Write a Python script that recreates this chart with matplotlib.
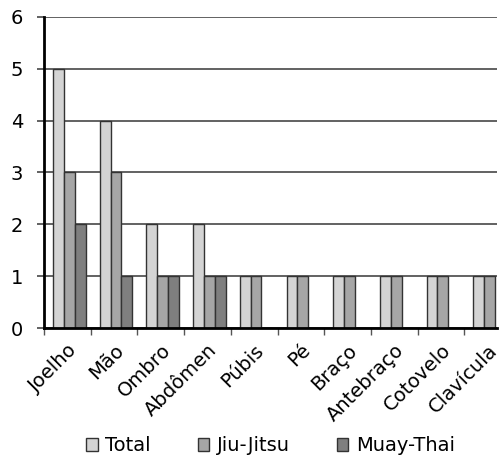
import matplotlib
matplotlib.use("Agg")
import matplotlib.pyplot as plt
import numpy as np

categorias = ["Joelho", "Mão", "Ombro", "Abdômen", "Púbis", "Pé", "Braço",
              "Antebraço", "Cotovelo", "Clavícula"]
total = [5, 4, 2, 2, 1, 1, 1, 1, 1, 1]
jiu_jitsu = [3, 3, 1, 1, 1, 1, 1, 1, 1, 1]
muay_thai = [2, 1, 1, 1, 0, 0, 0, 0, 0, 0]

series = [("Total", total, "#d4d4d4"),
          ("Jiu-Jitsu", jiu_jitsu, "#a6a6a6"),
          ("Muay-Thai", muay_thai, "#7f7f7f")]

plt.rcParams["font.family"] = ["DejaVu Sans"]

fig = plt.figure(figsize=(5.01, 4.66), dpi=100)
ax = fig.add_axes([0.088, 0.296, 0.904, 0.668])

x = np.arange(len(categorias))
largura = 0.232
for i, (nome, valores, cor) in enumerate(series):
    ax.bar(x + (i - 1) * largura + 0.04, valores, largura, color=cor,
           edgecolor="#333333", linewidth=1.0, label=nome, zorder=3)

ax.set_ylim(0, 6)
ax.set_xlim(-0.5, 9.2)
ax.set_yticks(range(7))
ax.yaxis.grid(True, color="#555555", linewidth=1.3, zorder=0)
ax.set_axisbelow(True)

ax.set_xticks(x)
ax.set_xticklabels(categorias, rotation=45, ha="right", rotation_mode="anchor")
ax.set_xticks(np.arange(-0.5, 9.2), minor=True)
ax.tick_params(axis="x", which="major", length=0, pad=9, labelsize=14)
ax.tick_params(axis="x", which="minor", length=5, width=1, color="#555555")
ax.tick_params(axis="y", length=5, width=1.3, color="#555555", labelsize=14,
               pad=10)

for lado in ["top", "right"]:
    ax.spines[lado].set_visible(False)
ax.spines["left"].set_linewidth(2)
ax.spines["bottom"].set_linewidth(2)
ax.spines["bottom"].set_zorder(4)

fig.legend(loc="lower center", ncol=3, frameon=False, fontsize=14,
           handlelength=0.6, handleheight=0.6, handletextpad=0.4,
           columnspacing=2.4, bbox_to_anchor=(0.54, -0.015))

fig.savefig("out.png", dpi=100)
